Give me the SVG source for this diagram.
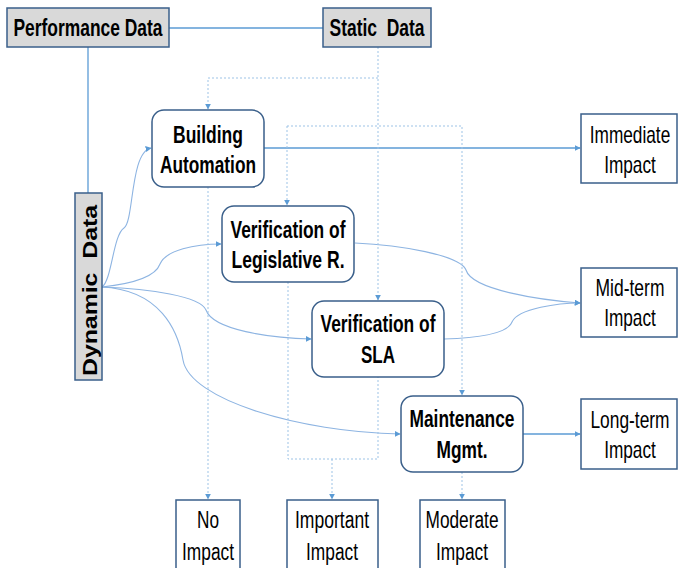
<svg xmlns="http://www.w3.org/2000/svg" width="678" height="568" viewBox="0 0 678 568">
<defs>
<marker id="ah" viewBox="0 0 10 10" refX="9" refY="5" markerWidth="6" markerHeight="6" orient="auto" markerUnits="userSpaceOnUse">
<path d="M0,0 L10,5 L0,10 Z" fill="#5B9BD5"/>
</marker>
<style>
.gray{fill:#D9D9D9;stroke:#3A5F8A;stroke-width:1.5}
.node{fill:#FFFFFF;stroke:#3A5F8A;stroke-width:1.5}
.imp{fill:#FFFFFF;stroke:#3A5F8A;stroke-width:1.5}
.bt{font-family:"Liberation Sans",Arial,sans-serif;font-weight:bold;font-size:23px;fill:#000;text-anchor:middle}
.rt{font-family:"Liberation Sans",Arial,sans-serif;font-size:23px;fill:#000;text-anchor:middle}
.solid{fill:none;stroke:#5B9BD5;stroke-width:1.3}
.curve{fill:none;stroke:#8DB4E2;stroke-width:1.1}
.dot{fill:none;stroke:#9DC3E6;stroke-width:1;stroke-dasharray:2,2}
</style>
</defs>
<g id="connectors">
<path class="solid" d="M169,28 H323"/>
<path class="solid" d="M88,47 V193"/>
<path class="solid" d="M264,148 H580" marker-end="url(#ah)"/>
<path class="solid" d="M523,434 H580" marker-end="url(#ah)"/>
<path class="curve" d="M102,287 C112,280 113,235 124,228 C134,222 130,152 151,148" marker-end="url(#ah)"/>
<path class="curve" d="M102,287 C130,284 155,278 160,264 C166,250 195,244 221,244" marker-end="url(#ah)"/>
<path class="curve" d="M102,287 C150,289 200,296 206,310 C213,330 270,338 311,339" marker-end="url(#ah)"/>
<path class="curve" d="M102,287 C160,290 178,330 183,360 C190,400 300,432 400,434" marker-end="url(#ah)"/>
<path class="curve" d="M355,243 C400,245 460,255 466,270 C472,290 540,300 580,303" marker-end="url(#ah)"/>
<path class="curve" d="M444,339 C480,338 508,333 512,322 C518,308 560,303 580,303" marker-end="url(#ah)"/>
<path class="dot" d="M378,47 V300" marker-end="url(#ah)"/>
<path class="dot" d="M378,78 H208 V109" marker-end="url(#ah)"/>
<path class="dot" d="M208,187 V499" marker-end="url(#ah)"/>
<path class="dot" d="M287,126 H462 V395" marker-end="url(#ah)"/>
<path class="dot" d="M287,126 V205" marker-end="url(#ah)"/>
<path class="dot" d="M288,282 V459 H378 V377"/>
<path class="dot" d="M332,459 V499" marker-end="url(#ah)"/>
<path class="dot" d="M462,472 V499" marker-end="url(#ah)"/>
</g>
<g id="performance-data">
<rect class="gray" x="7" y="8" width="162" height="39"/>
<text class="bt" x="88" y="36" textLength="149" lengthAdjust="spacingAndGlyphs">Performance Data</text>
</g>
<g id="static-data">
<rect class="gray" x="323" y="8" width="108" height="39"/>
<text class="bt" x="377" y="36" textLength="95" lengthAdjust="spacingAndGlyphs" xml:space="preserve">Static  Data</text>
</g>
<g id="dynamic-data">
<rect class="gray" x="75" y="193" width="27" height="187"/>
<text x="0" y="0" transform="translate(96.5,290.5) rotate(-90)" font-family="'Liberation Sans',Arial,sans-serif" font-weight="bold" font-size="21px" text-anchor="middle" textLength="171" lengthAdjust="spacingAndGlyphs" xml:space="preserve">Dynamic  Data</text>
</g>
<g id="building-automation">
<rect class="node" x="152" y="110" width="112" height="77" rx="12"/>
<text class="bt" x="208" y="143" textLength="70" lengthAdjust="spacingAndGlyphs">Building</text>
<text class="bt" x="208" y="173" textLength="96" lengthAdjust="spacingAndGlyphs">Automation</text>
</g>
<g id="verification-legislative">
<rect class="node" x="222" y="206" width="132" height="76" rx="12"/>
<text class="bt" x="288" y="238" textLength="115" lengthAdjust="spacingAndGlyphs">Verification of</text>
<text class="bt" x="288" y="268" textLength="113" lengthAdjust="spacingAndGlyphs">Legislative R.</text>
</g>
<g id="verification-sla">
<rect class="node" x="312" y="301" width="132" height="76" rx="12"/>
<text class="bt" x="378" y="332" textLength="115" lengthAdjust="spacingAndGlyphs">Verification of</text>
<text class="bt" x="378" y="363" textLength="34" lengthAdjust="spacingAndGlyphs">SLA</text>
</g>
<g id="maintenance-mgmt">
<rect class="node" x="401" y="396" width="122" height="76" rx="12"/>
<text class="bt" x="462" y="427" textLength="105" lengthAdjust="spacingAndGlyphs">Maintenance</text>
<text class="bt" x="462" y="458" textLength="51" lengthAdjust="spacingAndGlyphs">Mgmt.</text>
</g>
<g id="immediate-impact">
<rect class="imp" x="581" y="114" width="96" height="69"/>
<text class="rt" transform="translate(630,143) scale(0.75,1)">Immediate</text>
<text class="rt" transform="translate(630,173) scale(0.75,1)">Impact</text>
</g>
<g id="midterm-impact">
<rect class="imp" x="581" y="268" width="96" height="69"/>
<text class="rt" transform="translate(630,296) scale(0.76,1)">Mid-term</text>
<text class="rt" transform="translate(630,326) scale(0.75,1)">Impact</text>
</g>
<g id="longterm-impact">
<rect class="imp" x="581" y="399" width="96" height="70"/>
<text class="rt" transform="translate(630,428) scale(0.755,1)">Long-term</text>
<text class="rt" transform="translate(630,458) scale(0.75,1)">Impact</text>
</g>
<g id="no-impact">
<rect class="imp" x="176" y="500" width="64" height="80"/>
<text class="rt" x="208" y="528" textLength="22" lengthAdjust="spacingAndGlyphs">No</text>
<text class="rt" x="208" y="560" textLength="52" lengthAdjust="spacingAndGlyphs">Impact</text>
</g>
<g id="important-impact">
<rect class="imp" x="287" y="500" width="91" height="80"/>
<text class="rt" x="332" y="528" textLength="74" lengthAdjust="spacingAndGlyphs">Important</text>
<text class="rt" x="332" y="560" textLength="52" lengthAdjust="spacingAndGlyphs">Impact</text>
</g>
<g id="moderate-impact">
<rect class="imp" x="420" y="500" width="85" height="80"/>
<text class="rt" x="462" y="528" textLength="73" lengthAdjust="spacingAndGlyphs">Moderate</text>
<text class="rt" x="462" y="560" textLength="52" lengthAdjust="spacingAndGlyphs">Impact</text>
</g>
</svg>
